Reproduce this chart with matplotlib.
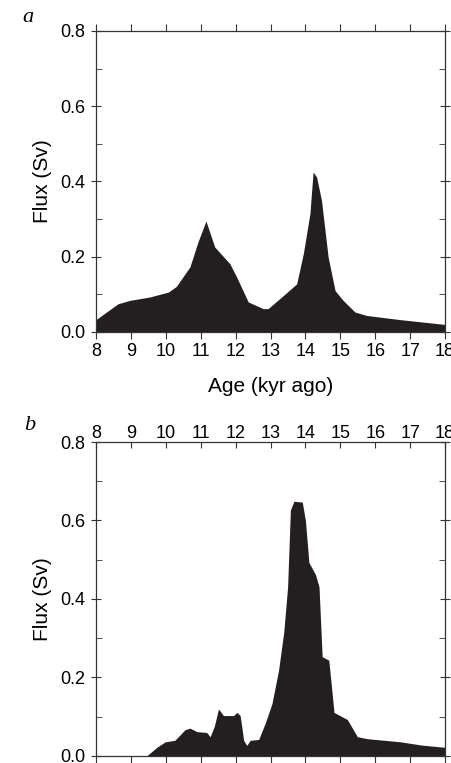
import numpy as np
import matplotlib
matplotlib.use("Agg")
import matplotlib.pyplot as plt
from matplotlib.ticker import MultipleLocator

plt.rcParams['font.family'] = ['Liberation Sans', 'DejaVu Sans']

# panel a: flux vs age
age_a = [8.0, 8.63, 8.97, 9.54, 10.07, 10.3, 10.69, 10.92, 11.15, 11.4, 11.83, 12.03,
         12.36, 12.79, 12.93, 13.37, 13.75, 13.94, 14.13, 14.22, 14.32, 14.46, 14.65,
         14.85, 15.08, 15.42, 15.75, 16.7, 18.0]
flux_a = [0.033, 0.075, 0.084, 0.093, 0.106, 0.121, 0.173, 0.239, 0.295, 0.226, 0.182, 0.146,
          0.080, 0.062, 0.062, 0.097, 0.128, 0.208, 0.315, 0.425, 0.412, 0.350, 0.200,
          0.110, 0.084, 0.053, 0.044, 0.033, 0.020]

# panel b
age_b = [8.0, 9.45, 9.74, 9.98, 10.26, 10.55, 10.69, 10.89, 11.17, 11.27, 11.39, 11.51,
         11.65, 11.94, 12.04, 12.13, 12.23, 12.32, 12.42, 12.66, 12.85, 13.04, 13.23,
         13.38, 13.49, 13.57, 13.67, 13.91, 14.0, 14.1, 14.29, 14.39, 14.48, 14.67,
         14.82, 15.2, 15.49, 15.78, 16.73, 17.31, 18.0]
flux_b = [0.0, 0.0, 0.022, 0.036, 0.040, 0.067, 0.071, 0.062, 0.060, 0.049, 0.076, 0.120,
          0.103, 0.103, 0.111, 0.103, 0.040, 0.027, 0.040, 0.042, 0.084, 0.133, 0.218,
          0.316, 0.431, 0.627, 0.649, 0.647, 0.600, 0.493, 0.462, 0.431, 0.253, 0.244,
          0.111, 0.093, 0.049, 0.044, 0.036, 0.028, 0.022]

fill_col = "#231f20"

fig = plt.figure(figsize=(4.51, 7.63), dpi=100)
ax1 = fig.add_axes([0.2129, 0.5649, 0.7738, 0.3945])
ax2 = fig.add_axes([0.2129, 0.0092, 0.7738, 0.4115])

for ax, x, y in [(ax1, age_a, flux_a), (ax2, age_b, flux_b)]:
    ax.fill_between(x, 0, y, color=fill_col, lw=0)
    ax.set_xlim(8, 18)
    ax.set_ylim(0, 0.8)
    ax.xaxis.set_major_locator(MultipleLocator(1))
    ax.yaxis.set_major_locator(MultipleLocator(0.2))
    ax.yaxis.set_minor_locator(MultipleLocator(0.1))
    ax.yaxis.set_major_formatter(matplotlib.ticker.FormatStrFormatter('%.1f'))
    for s in ax.spines.values():
        s.set_linewidth(0.9)
        s.set_color("#333333")
    ax.set_ylabel("Flux (Sv)", fontsize=15, labelpad=6)
    ax.tick_params(axis='y', which='both', direction='in', right=True, labelsize=13,
                   length=4, pad=4, color="#333333")
    ax.tick_params(axis='y', which='major', direction='inout', length=7)

ax1.tick_params(axis='x', direction='out', top=True, bottom=True, labelsize=13, length=5,
                pad=3, color="#333333")
ax1.set_xlabel("Age (kyr ago)", fontsize=15, labelpad=12)

ax2.tick_params(axis='x', direction='in', top=True, bottom=False, labeltop=True,
                labelbottom=False, labelsize=13, length=4, pad=0, color="#333333")
# outward ticks along the bottom edge, unlabelled
sec = ax2.secondary_xaxis('bottom')
sec.xaxis.set_major_locator(MultipleLocator(1))
sec.tick_params(axis='x', direction='out', length=5, labelbottom=False, color="#333333")
sec.spines['bottom'].set_visible(False)

fig.text(0.062, 0.977, "a", fontsize=16, style='italic', family='Liberation Serif',
         ha='center', va='center')
fig.text(0.066, 0.442, "b", fontsize=16, style='italic', family='Liberation Serif',
         ha='center', va='center')

fig.savefig("out.png", dpi=100)
